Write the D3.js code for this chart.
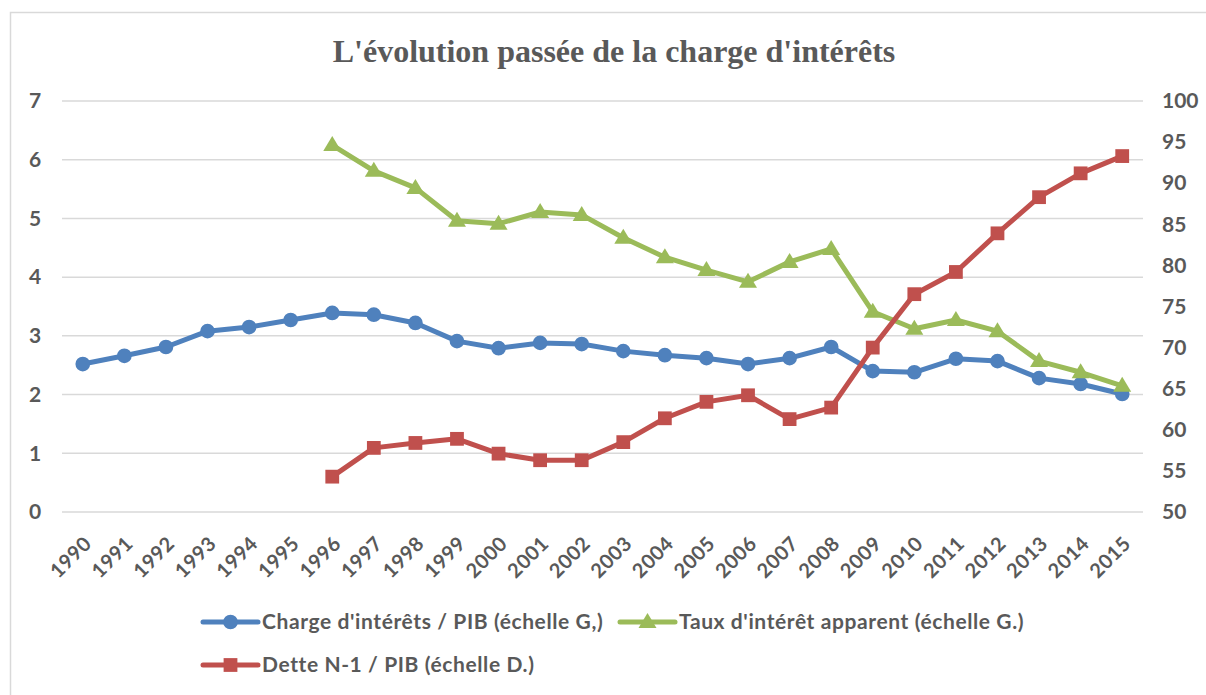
<!DOCTYPE html>
<html><head><meta charset="utf-8">
<script src="https://cdn.jsdelivr.net/npm/d3@7"></script>
<style>html,body{margin:0;padding:0;background:#fff;}</style>
</head><body>
<svg id="chart" width="1206" height="695"></svg>
<script>
const years = [1990,1991,1992,1993,1994,1995,1996,1997,1998,1999,2000,2001,2002,2003,2004,2005,2006,2007,2008,2009,2010,2011,2012,2013,2014,2015];
const chargePIB = [2.52,2.66,2.81,3.08,3.15,3.27,3.39,3.36,3.22,2.91,2.79,2.88,2.86,2.74,2.67,2.62,2.52,2.62,2.81,2.40,2.38,2.61,2.57,2.28,2.18,2.01];
const tauxApparent = [null,null,null,null,null,null,6.25,5.81,5.52,4.96,4.91,5.11,5.06,4.67,4.34,4.12,3.92,4.26,4.48,3.41,3.12,3.27,3.08,2.57,2.38,2.15];
const detteN1 = [null,null,null,null,null,null,54.3,57.8,58.4,58.9,57.1,56.3,56.3,58.5,61.4,63.4,64.2,61.3,62.7,70.0,76.5,79.2,83.9,88.3,91.2,93.3];
const leftTicks = [0,1,2,3,4,5,6,7];
const rightTicks = [50,55,60,65,70,75,80,85,90,95,100];
const title = "L'évolution passée de la charge d'intérêts";
const seriesNames = ["Charge d'intérêts / PIB (échelle G,)", "Taux d'intérêt apparent (échelle G.)", "Dette N-1 / PIB (échelle D.)"];

const svg = d3.select("#chart");
const textCol = "#595959", font = "Lato, 'Open Sans', sans-serif";
const blue = "#4F81BD", green = "#9BBB59", red = "#C0504D";

svg.append("rect").attr("x",10.5).attr("y",12.5).attr("width",1300).attr("height",800)
  .attr("fill","#fff").attr("stroke","#d9d9d9").attr("stroke-width",1.5);

svg.append("text").attr("x",614).attr("y",62).attr("text-anchor","middle")
  .attr("font-family","'Liberation Serif','Times New Roman',serif").attr("font-weight","bold")
  .attr("font-size",32).attr("fill",textCol).text(title);

const x = d3.scaleBand().domain(years).range([62,1143]);
const yL = d3.scaleLinear().domain([0,7]).range([512,101]);
const yR = d3.scaleLinear().domain([50,100]).range([512,101]);
const cx = d => x(d) + x.bandwidth()/2;

// gridlines
svg.append("g").selectAll("line").data(leftTicks).join("line")
  .attr("x1",62).attr("x2",1143).attr("y1",d=>yL(d)).attr("y2",d=>yL(d))
  .attr("stroke","#d9d9d9").attr("stroke-width",1.5);

// left axis
const gL = svg.append("g").attr("transform","translate(50,0)")
  .call(d3.axisLeft(yL).tickValues(leftTicks).tickSize(0).tickPadding(0).tickFormat(d3.format("d")));
gL.select(".domain").remove();
gL.selectAll("text").attr("font-family",font).attr("font-weight","bold").attr("font-size",21).attr("fill",textCol).attr("text-anchor","middle").attr("x",-15);

// right axis
const gR = svg.append("g").attr("transform","translate(1162,0)")
  .call(d3.axisRight(yR).tickValues(rightTicks).tickSize(0).tickPadding(0).tickFormat(d3.format("d")));
gR.select(".domain").remove();
gR.selectAll("text").attr("font-family",font).attr("font-weight","bold").attr("font-size",21).attr("fill",textCol).attr("x",0);

// x axis
const gX = svg.append("g").attr("transform","translate(0,512)")
  .call(d3.axisBottom(x).tickSize(0).tickPadding(0));
gX.select(".domain").remove();
gX.selectAll("text").attr("font-family",font).attr("font-weight","bold").attr("font-size",20).attr("fill",textCol)
  .attr("letter-spacing","0.5px")
  .attr("text-anchor","end").attr("dy","0.35em").attr("y",0).attr("x",0)
  .attr("transform","translate(5,28) rotate(-45)");

function drawSeries(vals, yScale, color, marker){
  const pts = years.map((yr,i)=>({yr, v: vals[i]})).filter(d=>d.v!==null);
  const line = d3.line().x(d=>cx(d.yr)).y(d=>yScale(d.v));
  const g = svg.append("g");
  g.append("path").datum(pts).attr("d",line).attr("fill","none").attr("stroke",color)
    .attr("stroke-width",5).attr("stroke-linejoin","round").attr("stroke-linecap","round");
  g.selectAll("path.m").data(pts).join("path").attr("class","m")
    .attr("transform",d=>`translate(${cx(d.yr)},${yScale(d.v)})`)
    .attr("d",marker).attr("fill",color);
}
const circ = d3.symbol().type(d3.symbolCircle).size(170)();
const sq = d3.symbol().type(d3.symbolSquare).size(190)();
const tri = "M0,-9L9,6L-9,6Z";

drawSeries(chargePIB, yL, blue, circ);
drawSeries(tauxApparent, yL, green, tri);
drawSeries(detteN1, yR, red, sq);

// legend
const legend = [
  {name: seriesNames[0], color: blue, marker: circ, x: 203, y: 622},
  {name: seriesNames[1], color: green, marker: tri, x: 620, y: 622},
  {name: seriesNames[2], color: red, marker: sq, x: 203, y: 665}
];
const lg = svg.append("g").selectAll("g").data(legend).join("g")
  .attr("transform",d=>`translate(${d.x},${d.y})`);
lg.append("line").attr("x1",0).attr("x2",55).attr("stroke",d=>d.color).attr("stroke-width",5).attr("stroke-linecap","round");
lg.append("path").attr("d",d=>d.marker).attr("fill",d=>d.color).attr("transform","translate(27.5,0)");
lg.append("text").attr("x",59).attr("dy","0.35em").attr("font-family",font).attr("font-weight","bold")
  .attr("letter-spacing","0.6px")
  .attr("font-size",21).attr("fill",textCol).text(d=>d.name);
</script>
</body></html>
